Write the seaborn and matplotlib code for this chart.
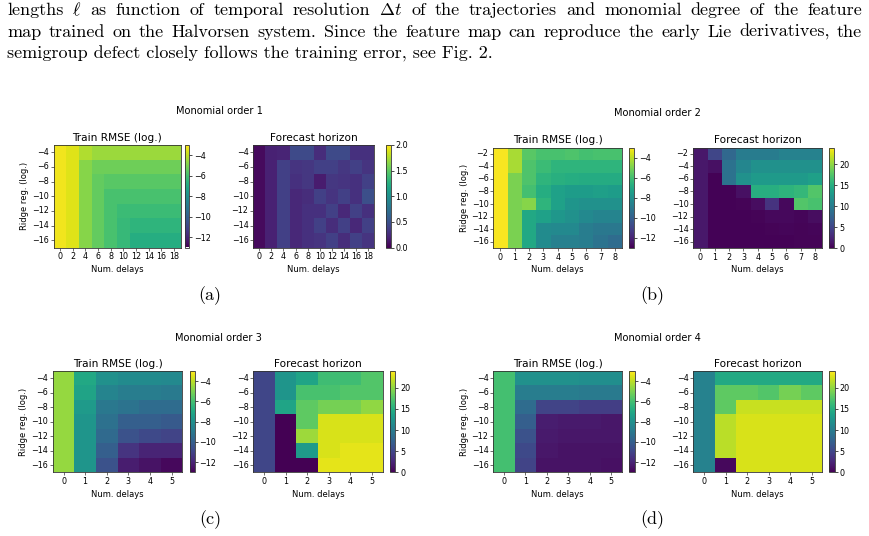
import re
import numpy as np
import pandas as pd
import matplotlib
matplotlib.use("Agg")
import matplotlib.pyplot as plt
import seaborn as sns

# ---------------- data ----------------
ridge_a = [-4, -6, -8, -10, -12, -14, -16]
delays_a = [0, 2, 4, 6, 8, 10, 12, 14, 16, 18]
rmse_a = [
    [-3.2, -3.5, -4.2, -4.5, -4.5, -4.5, -4.5, -4.5, -4.5, -4.5],
    [-3.2, -3.5, -4.8, -5.2, -5.2, -5.2, -5.2, -5.2, -5.2, -5.2],
    [-3.2, -3.5, -4.8, -5.4, -5.6, -5.6, -5.6, -5.6, -5.6, -5.6],
    [-3.2, -3.5, -4.8, -5.4, -5.9, -5.9, -5.9, -5.9, -5.9, -5.9],
    [-3.2, -3.5, -4.8, -5.4, -5.9, -6.2, -6.2, -6.2, -6.2, -6.2],
    [-3.2, -3.5, -4.8, -5.4, -5.9, -6.3, -6.5, -6.5, -6.5, -6.5],
    [-3.2, -3.5, -4.8, -5.4, -5.9, -6.3, -6.8, -6.8, -6.8, -6.8],
]
fh_a = [
    [0.05, 0.18, 0.20, 0.45, 0.45, 0.25, 0.45, 0.45, 0.28, 0.28],
    [0.05, 0.18, 0.38, 0.30, 0.32, 0.38, 0.38, 0.32, 0.38, 0.30],
    [0.05, 0.18, 0.38, 0.28, 0.32, 0.15, 0.32, 0.30, 0.28, 0.38],
    [0.05, 0.18, 0.38, 0.22, 0.25, 0.38, 0.30, 0.38, 0.28, 0.48],
    [0.05, 0.18, 0.38, 0.22, 0.28, 0.28, 0.38, 0.22, 0.38, 0.28],
    [0.05, 0.18, 0.38, 0.22, 0.28, 0.38, 0.25, 0.38, 0.22, 0.38],
    [0.05, 0.18, 0.38, 0.22, 0.28, 0.30, 0.38, 0.25, 0.38, 0.30],
]

ridge_b = [-2, -4, -6, -8, -10, -12, -14, -16]
delays_b = [0, 1, 2, 3, 4, 5, 6, 7, 8]
rmse_b = [
    [-3.1, -4.3, -5.6, -5.9, -5.9, -5.8, -6.0, -5.9, -5.9],
    [-3.1, -4.3, -5.8, -6.2, -6.5, -6.5, -6.5, -6.5, -6.5],
    [-3.1, -5.0, -5.8, -6.5, -6.7, -6.8, -6.9, -6.9, -6.9],
    [-3.1, -5.0, -6.0, -6.8, -7.3, -7.5, -7.5, -7.4, -7.5],
    [-3.1, -5.0, -4.8, -6.5, -7.3, -7.8, -8.0, -8.0, -8.0],
    [-3.1, -5.0, -7.0, -7.3, -7.7, -8.0, -8.3, -8.5, -8.5],
    [-3.1, -5.0, -7.0, -8.2, -8.3, -8.3, -8.8, -9.0, -9.0],
    [-3.1, -5.0, -7.0, -8.2, -8.7, -8.7, -8.8, -9.2, -9.5],
]
fh_b = [
    [1.5, 5.0, 8.0, 10.0, 10.0, 10.0, 10.5, 10.5, 10.5],
    [1.5, 1.0, 9.0, 11.0, 12.0, 12.0, 12.0, 12.0, 12.0],
    [1.5, 0.1, 9.0, 12.0, 13.0, 13.0, 13.0, 13.0, 13.5],
    [1.5, 0.1, 0.1, 1.0, 15.0, 15.0, 15.5, 16.0, 17.5],
    [1.5, 0.1, 0.1, 0.2, 0.8, 3.5, 0.5, 17.5, 17.0],
    [1.5, 0.1, 0.1, 0.1, 0.2, 0.5, 0.5, 0.3, 0.8],
    [1.5, 0.1, 0.1, 0.1, 0.1, 0.2, 0.3, 0.2, 0.3],
    [1.5, 0.1, 0.1, 0.1, 0.1, 0.1, 0.1, 0.2, 0.2],
]

ridge_c = [-4, -6, -8, -10, -12, -14, -16]
delays_c = [0, 1, 2, 3, 4, 5]
rmse_c = [
    [-4.6, -7.0, -8.0, -8.2, -8.2, -8.3],
    [-4.6, -7.2, -8.5, -8.8, -8.8, -8.9],
    [-4.6, -7.6, -9.0, -9.2, -9.5, -9.5],
    [-4.6, -7.8, -9.3, -10.0, -10.0, -10.2],
    [-4.6, -7.8, -9.6, -10.5, -10.8, -11.0],
    [-4.6, -7.8, -10.0, -11.5, -12.0, -12.0],
    [-4.6, -7.8, -10.5, -12.2, -12.5, -12.8],
]
fh_c = [
    [5.0, 12.5, 14.0, 16.5, 16.5, 17.5],
    [5.0, 12.5, 17.0, 17.0, 17.5, 17.5],
    [5.0, 14.0, 18.0, 19.0, 19.0, 20.0],
    [5.0, 0.0, 18.0, 22.5, 22.5, 22.5],
    [5.0, 0.0, 20.5, 22.5, 22.5, 22.5],
    [5.0, 0.0, 13.0, 22.5, 23.0, 23.0],
    [5.0, 0.0, 0.0, 23.0, 23.0, 23.0],
]

ridge_d = [-4, -6, -8, -10, -12, -14, -16]
delays_d = [0, 1, 2, 3, 4, 5]
rmse_d = [
    [-6.0, -8.0, -8.0, -8.0, -8.1, -8.1],
    [-6.0, -8.8, -8.8, -8.8, -8.9, -8.9],
    [-6.0, -9.5, -11.0, -11.0, -11.2, -11.2],
    [-6.0, -10.0, -12.2, -12.3, -12.3, -12.4],
    [-6.0, -10.5, -12.3, -12.4, -12.4, -12.4],
    [-6.0, -10.8, -12.4, -12.5, -12.5, -12.5],
    [-6.0, -11.0, -12.5, -12.5, -12.5, -12.6],
]
fh_d = [
    [10.5, 14.5, 14.5, 14.5, 14.5, 14.5],
    [10.5, 18.0, 18.0, 17.5, 19.0, 18.0],
    [10.5, 18.0, 22.0, 22.0, 22.0, 22.0],
    [10.5, 21.5, 22.5, 22.5, 22.5, 22.5],
    [10.5, 21.5, 22.5, 22.5, 22.5, 22.5],
    [10.5, 21.5, 22.5, 22.5, 22.5, 22.5],
    [10.5, 0.5, 22.5, 22.5, 22.5, 22.5],
]

caption_lines = [
    r"lengths $\ell$ as function of temporal resolution $\Delta t$ of the trajectories and monomial degree of the feature",
    "map trained on the Halvorsen system. Since the feature map can reproduce the early Lie derivatives, the",
    "semigroup defect closely follows the training error, see Fig. 2.",
]
panel_titles = ["Monomial order 1", "Monomial order 2", "Monomial order 3", "Monomial order 4"]
panel_letters = ["(a)", "(b)", "(c)", "(d)"]

# ---------------- figure ----------------
W, H = 869, 536
plt.rcParams["mathtext.fontset"] = "cm"
fig = plt.figure(figsize=(W / 100, H / 100), dpi=100)
fig.patch.set_facecolor("white")


def px_axes(x0, y0, x1, y1):
    return fig.add_axes([x0 / W, 1 - y1 / H, (x1 - x0) / W, (y1 - y0) / H])


def minus(v):
    return str(v).replace("-", "\u2212")


TICK_FS = 5.8
LAB_FS = 6.0
TITLE_FS = 7.6
CAP_FS = 13.0


def draw_map(data, ridge, delays, axbox, cbbox, vmin, vmax, cticks, title, ylabel):
    ax = px_axes(*axbox)
    cax = px_axes(*cbbox)
    df = pd.DataFrame(data, index=[minus(r) for r in ridge], columns=[str(d) for d in delays])
    sns.heatmap(df, ax=ax, cbar_ax=cax, cmap="viridis", vmin=vmin, vmax=vmax,
                xticklabels=True, yticklabels=True, cbar_kws={"ticks": cticks})
    for sp in ax.spines.values():
        sp.set_visible(True)
        sp.set_linewidth(0.6)
        sp.set_color("#333333")
    ax.tick_params(axis="both", labelsize=TICK_FS, length=2, width=0.5, pad=1.5, color="#333333")
    plt.setp(ax.get_yticklabels(), rotation=0)
    plt.setp(ax.get_xticklabels(), rotation=0)
    ax.set_title(title, fontsize=TITLE_FS, pad=3.0)
    ax.set_xlabel("Num. delays", fontsize=LAB_FS, labelpad=2.5)
    if ylabel:
        ax.set_ylabel("Ridge reg. (log.)", fontsize=LAB_FS, labelpad=2)
    else:
        ax.set_ylabel("")
    cb = ax.collections[0].colorbar
    cb.outline.set_visible(True)
    cb.outline.set_linewidth(0.6)
    cb.outline.set_edgecolor("#333333")
    cax.tick_params(labelsize=TICK_FS, length=2, width=0.5, pad=1.5)
    cb.set_ticks(cticks)
    return ax


rm_ticks = [-4, -6, -8, -10, -12]
fh_ticks_big = [0, 5, 10, 15, 20]

# (a)
draw_map(rmse_a, ridge_a, delays_a, (53.5, 145, 180.5, 247.5), (184.5, 145, 189.3, 247.5),
         -13, -3, rm_ticks, "Train RMSE (log.)", True)
draw_map(fh_a, ridge_a, delays_a, (253.3, 145, 374, 247.5), (385.7, 145, 390.5, 247.5),
         0, 2, [0, 0.5, 1.0, 1.5, 2.0], "Forecast horizon", False)
# (b)
draw_map(rmse_b, ridge_b, delays_b, (493.3, 147.5, 622, 248), (629.3, 147.5, 634, 248),
         -13, -3, rm_ticks, "Train RMSE (log.)", True)
draw_map(fh_b, ridge_b, delays_b, (693.3, 147.5, 822.3, 248), (829.3, 147.5, 834.3, 248),
         0, 24, fh_ticks_big, "Forecast horizon", False)
# (c)
draw_map(rmse_c, ridge_c, delays_c, (52.7, 371, 182.3, 472.3), (190, 371, 194.5, 472.3),
         -13, -3, rm_ticks, "Train RMSE (log.)", True)
draw_map(fh_c, ridge_c, delays_c, (253.3, 371, 382.7, 472.3), (390, 371, 395.5, 472.3),
         0, 24, fh_ticks_big, "Forecast horizon", False)
# (d)
draw_map(rmse_d, ridge_d, delays_d, (493.3, 371, 622, 472.3), (629.3, 371, 634.5, 472.3),
         -13, -3, rm_ticks, "Train RMSE (log.)", True)
draw_map(fh_d, ridge_d, delays_d, (693.3, 371, 822.3, 472.3), (829.3, 371, 834.5, 472.3),
         0, 24, fh_ticks_big, "Forecast horizon", False)

# panel titles and letters
title_pos = [(219, 111.5), (657, 113), (218, 338), (657, 338)]
for t, (x, y) in zip(panel_titles, title_pos):
    fig.text(x / W, 1 - y / H, t, fontsize=7.1, ha="center", va="center")
letter_pos = [(210, 296), (652, 296), (210, 520), (652, 520)]
for t, (x, y) in zip(panel_letters, letter_pos):
    fig.text(x / W, 1 - y / H, t, fontsize=13, ha="center", va="center", family="cmr10")

# caption (lines 1-2 justified like the typeset page)
fig.canvas.draw()
rend = fig.canvas.get_renderer()
baselines = [15, 37, 59]
x_left, x_right = 7, 862
for i, (line, yb) in enumerate(zip(caption_lines, baselines)):
    if i < 2:
        words = re.findall(r"\$[^$]*\$|\S+", line)
        texts = [fig.text(0, 1 - yb / H, w, fontsize=CAP_FS, family="cmr10", ha="left", va="baseline")
                 for w in words]
        widths = [t.get_window_extent(rend).width for t in texts]
        gap = (x_right - x_left - sum(widths)) / (len(words) - 1)
        x = x_left
        for t, wd in zip(texts, widths):
            t.set_x(x / W)
            x += wd + gap
    else:
        fig.text(x_left / W, 1 - yb / H, line, fontsize=CAP_FS, family="cmr10", ha="left", va="baseline")

fig.savefig("out.png", dpi=100, facecolor="white")
